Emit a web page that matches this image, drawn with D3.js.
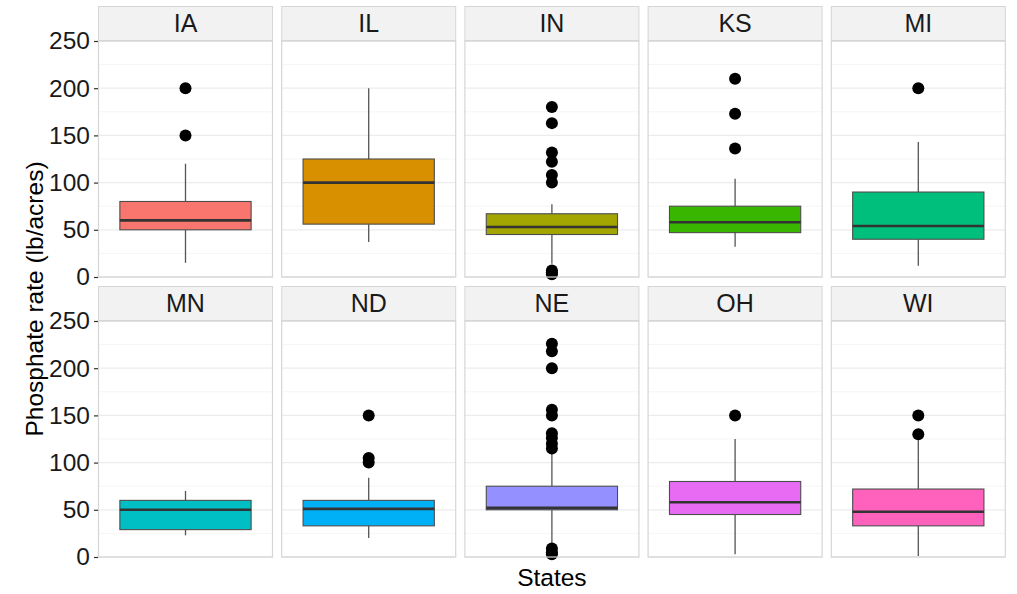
<!DOCTYPE html>
<html><head><meta charset="utf-8">
<script src="https://cdn.jsdelivr.net/npm/d3@7"></script>
<style>
body{margin:0;background:#fff;}
text{font-family:"Liberation Sans",Arial,sans-serif;}
</style></head>
<body><svg id="c" width="1017" height="594"></svg>
<script>
const states = ["IA","IL","IN","KS","MI","MN","ND","NE","OH","WI"];
const whiskerLow  = [15, 37, 14, 32, 12, 23, 20, 9, 3, 1];
const q1          = [50, 56, 45, 47, 40, 29, 33, 50, 45, 33];
const medians     = [60, 100, 53, 58, 54, 50, 51, 52, 58, 48];
const q3          = [80, 125, 67, 75, 90, 60, 60, 75, 80, 72];
const whiskerHigh = [120, 200, 77, 104, 143, 70, 84, 113, 125, 128];
const outliers = [
  [200, 150],
  [],
  [180, 163, 132, 122, 108, 100, 7, 5, 3],
  [210, 173, 136],
  [200],
  [],
  [150, 105, 100],
  [226, 218, 200, 156, 150, 131, 126, 120, 115, 9, 5, 3],
  [150],
  [150, 130]
];
const colors = ["#F8766D","#D89000","#A3A500","#39B600","#00BF7D","#00BFC4","#00B0F6","#9590FF","#E76BF3","#FF62BC"];
const yTicks = [0, 50, 100, 150, 200, 250];
const yMinor = [25, 75, 125, 175, 225];

const svg = d3.select("#c");
const panelX0 = 98, panelW = 175, panelGap = 8.2;
const rowStripTop = [6, 286], stripH = 35, panelH = 236;

const x = d3.scaleBand().domain(states.slice(0,5)).range([panelX0, panelX0 + 5*panelW + 4*panelGap]).paddingInner(panelGap/(panelW+panelGap)).paddingOuter(0);
const color = d3.scaleOrdinal().domain(states).range(colors);

states.forEach((s, i) => {
  const row = Math.floor(i/5), col = i % 5;
  const px = x(states[col]);
  const pw = x.bandwidth();
  const top = rowStripTop[row] + stripH;
  const y = d3.scaleLinear().domain([0, 250]).range([top + panelH, top]);
  const g = svg.append("g");
  g.append("rect").attr("x", px).attr("y", top).attr("width", pw).attr("height", panelH).attr("fill", "#fff");
  g.selectAll(".mn").data(yMinor).join("line")
    .attr("x1", px).attr("x2", px+pw).attr("y1", d=>y(d)).attr("y2", d=>y(d))
    .attr("stroke", "#f5f5f5").attr("stroke-width", 1);
  g.selectAll(".mj").data(yTicks).join("line")
    .attr("x1", px).attr("x2", px+pw).attr("y1", d=>y(d)).attr("y2", d=>y(d))
    .attr("stroke", "#ececec").attr("stroke-width", 1.3);
  g.append("rect").attr("x", px+0.5).attr("y", rowStripTop[row]+0.5).attr("width", pw-1).attr("height", stripH-1)
    .attr("fill", "#f2f2f2").attr("stroke", "#d6d6d6").attr("stroke-width", 1);
  g.append("text").attr("x", px + pw/2).attr("y", rowStripTop[row] + stripH/2 + 8.5)
    .attr("text-anchor", "middle").attr("font-size", 25).attr("fill", "#1a1a1a").text(s);
  const bx = d3.scaleBand().domain([s]).range([px, px+pw]).paddingInner(0.25).paddingOuter(0.125);
  const cx = bx(s) + bx.bandwidth()/2;
  g.append("line").attr("x1", cx).attr("x2", cx).attr("y1", y(q3[i])).attr("y2", y(whiskerHigh[i]))
    .attr("stroke", "#555").attr("stroke-width", 1.3);
  g.append("line").attr("x1", cx).attr("x2", cx).attr("y1", y(q1[i])).attr("y2", y(whiskerLow[i]))
    .attr("stroke", "#555").attr("stroke-width", 1.3);
  g.append("rect").attr("x", bx(s)).attr("width", bx.bandwidth())
    .attr("y", y(q3[i])).attr("height", y(q1[i]) - y(q3[i]))
    .attr("fill", color(s)).attr("stroke", "#4d4d4d").attr("stroke-width", 1.1);
  g.append("line").attr("x1", bx(s)).attr("x2", bx(s)+bx.bandwidth()).attr("y1", y(medians[i])).attr("y2", y(medians[i]))
    .attr("stroke", "#333").attr("stroke-width", 2.6);
  g.selectAll(".o").data(outliers[i]).join("circle")
    .attr("cx", cx).attr("cy", d=>y(d)).attr("r", 6).attr("fill", "#000");
  g.append("rect").attr("x", px+0.5).attr("y", top).attr("width", pw-1).attr("height", panelH)
    .attr("fill", "none").attr("stroke", "#d6d6d6").attr("stroke-width", 1.2);
  if (col === 0) {
    const ax = svg.append("g").attr("transform", `translate(${px},0)`)
      .call(d3.axisLeft(y).tickValues(yTicks).tickSize(4).tickPadding(4));
    ax.select(".domain").remove();
    ax.selectAll(".tick line").attr("stroke", "#333").attr("stroke-width", 1.2);
    ax.selectAll(".tick text").attr("font-size", 24.5).attr("fill", "#1a1a1a")
      .attr("font-family", "'Liberation Sans',Arial,sans-serif");
  }
});

svg.append("text").attr("transform", `translate(43,299) rotate(-90)`)
  .attr("text-anchor", "middle").attr("font-size", 24.5).attr("fill", "#000").text("Phosphate rate (lb/acres)");
svg.append("text").attr("x", x(states[2]) + x.bandwidth()/2).attr("y", 586)
  .attr("text-anchor", "middle").attr("font-size", 24.5).attr("fill", "#000").text("States");
</script></body></html>
